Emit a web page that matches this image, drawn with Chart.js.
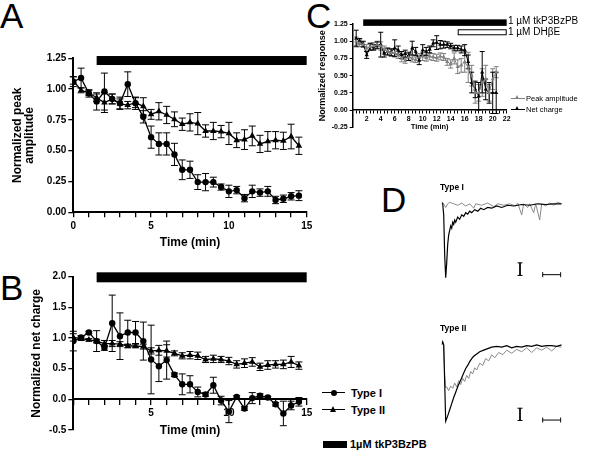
<!DOCTYPE html>
<html>
<head>
<meta charset="utf-8">
<script src="https://cdn.jsdelivr.net/npm/chart.js@4.4.0/dist/chart.umd.min.js"></script>
<style>
body { margin:0; width:592px; height:452px; overflow:hidden; position:relative; background:#fff;
       font-family:"Liberation Sans", Arial, sans-serif; color:#000; }
canvas { position:absolute; }
.txt { position:absolute; white-space:nowrap; }
.letter { position:absolute; font-size:35px; line-height:35px; }
.b { font-weight:bold; }
.ln { position:absolute; height:0; border-top:1.5px solid #000; }
.dot { position:absolute; width:6px; height:6px; border-radius:50%; background:#000; }
.tri { position:absolute; width:0; height:0; border-left:3.5px solid transparent;
       border-right:3.5px solid transparent; border-bottom:6px solid #000; }
</style>
</head>
<body>
<div class="letter" style="left:0;top:-2px">A</div>
<div class="letter" style="left:0;top:270px">B</div>
<div class="letter" style="left:306px;top:-2px">C</div>
<div class="letter" style="left:381px;top:182px">D</div>

<canvas id="chartA" width="320" height="252" style="left:0;top:0"></canvas>
<canvas id="chartB" width="320" height="188" style="left:0;top:252px"></canvas>
<canvas id="chartC" width="282" height="140" style="left:310px;top:0"></canvas>
<canvas id="chartD1" width="150" height="100" style="left:430px;top:190px"></canvas>
<canvas id="chartD2" width="150" height="100" style="left:430px;top:330px"></canvas>

<!-- legend A/B -->
<div class="ln" style="left:322px;top:392px;width:23px"></div>
<div class="dot" style="left:330.5px;top:390px"></div>
<div class="txt b" style="left:351px;top:387px;font-size:11px;line-height:12px">Type I</div>
<div class="ln" style="left:322px;top:409px;width:23px"></div>
<div class="tri" style="left:330px;top:406px"></div>
<div class="txt b" style="left:351px;top:404px;font-size:11px;line-height:12px">Type II</div>

<!-- drug legend -->
<div style="position:absolute;left:323px;top:441px;width:24px;height:7px;background:#000"></div>
<div class="txt b" style="left:350px;top:438px;font-size:11px;line-height:12px">1µM tkP3BzPB</div>

<!-- panel C labels -->
<div class="txt" style="left:508px;top:15px;font-size:10px;line-height:12px">1 µM tkP3BzPB</div>
<div class="txt" style="left:508px;top:26px;font-size:10px;line-height:12px">1 µM DHβE</div>
<div class="ln" style="left:511px;top:97.5px;width:14px;border-color:#808080"></div>
<div class="tri" style="left:514.5px;top:95px;border-bottom-color:#808080;border-left-width:2.5px;border-right-width:2.5px;border-bottom-width:4.5px"></div>
<div class="txt" style="left:526px;top:93.5px;font-size:7.5px;line-height:9px">Peak amplitude</div>
<div class="ln" style="left:511px;top:108.5px;width:14px"></div>
<div class="tri" style="left:514.5px;top:106px;border-left-width:2.5px;border-right-width:2.5px;border-bottom-width:4.5px"></div>
<div class="txt" style="left:526px;top:104.5px;font-size:7.5px;line-height:9px">Net charge</div>

<!-- panel D labels -->
<div class="txt b" style="left:440px;top:182px;font-size:8.5px;line-height:10px">Type I</div>
<div class="txt b" style="left:440px;top:323px;font-size:8.5px;line-height:10px">Type II</div>

<script>
// ---- data: panels A and B (time in min) ----
const TIME_AB = [0,0.5,1,1.5,2,2.5,3,3.5,4,4.5,5,5.5,6,6.5,7,7.5,8,8.5,9,9.5,10,10.5,11,11.5,12,12.5,13,13.5,14,14.5];

const A_TYPE1     = [1.06,1.09,0.965,0.90,0.98,0.92,0.885,1.04,0.885,0.775,0.61,0.555,0.555,0.47,0.345,0.345,0.245,0.245,0.245,0.205,0.17,0.18,0.115,0.17,0.16,0.17,0.10,0.11,0.13,0.135];
const A_TYPE1_SEM = [0.04,0.08,0.03,0.07,0.15,0.04,0.05,0.10,0.05,0.05,0.09,0.09,0.09,0.09,0.08,0.07,0.06,0.07,0.04,0.025,0.05,0.03,0.03,0.05,0.03,0.04,0.03,0.03,0.03,0.04];
const A_TYPE2     = [1.07,0.99,0.97,0.93,0.89,0.92,0.88,0.87,0.89,0.86,0.795,0.82,0.79,0.755,0.715,0.73,0.72,0.66,0.66,0.655,0.64,0.585,0.59,0.62,0.555,0.575,0.585,0.58,0.615,0.54];
const A_TYPE2_SEM = [0.03,0.02,0.02,0.03,0.08,0.04,0.04,0.03,0.04,0.07,0.04,0.07,0.07,0.06,0.05,0.07,0.09,0.05,0.07,0.05,0.09,0.06,0.08,0.08,0.07,0.08,0.07,0.07,0.10,0.07];

const B_TYPE1     = [0.95,1.01,1.09,0.95,0.84,1.24,1.03,1.09,1.09,0.95,0.65,0.54,0.64,0.40,0.245,0.245,0.12,0.08,0.23,-0.02,-0.20,0.04,-0.15,0.02,0.06,0.03,-0.08,-0.23,-0.10,-0.04];
const B_TYPE1_SEM = [0.16,0.03,0.02,0.17,0.04,0.46,0.38,0.20,0.18,0.31,0.56,0.25,0.31,0.03,0.17,0.14,0.08,0.03,0.13,0.07,0.18,0.02,0.03,0.09,0.03,0.02,0.03,0.20,0.07,0.07];
const B_TYPE2     = [1.01,0.99,0.97,0.95,0.91,0.91,0.90,0.87,0.87,0.86,0.79,0.80,0.79,0.75,0.71,0.72,0.71,0.65,0.66,0.65,0.625,0.57,0.59,0.61,0.53,0.56,0.57,0.57,0.61,0.55];
const B_TYPE2_SEM = [0.06,0.03,0.02,0.03,0.05,0.05,0.04,0.03,0.03,0.04,0.05,0.08,0.10,0.04,0.05,0.06,0.06,0.05,0.06,0.05,0.06,0.06,0.07,0.07,0.06,0.07,0.06,0.07,0.09,0.06];

const DRUG_AB = [1.5, 15];   // tkP3BzPB application (min)

// ---- data: panel C ----
const TIME_C = [0.5,1,1.5,2,2.5,3,3.5,4,4.5,5,5.5,6,6.5,7,7.5,8,8.5,9,9.5,10,10.5,11,11.5,12,12.5,13,13.5,14,14.5,15,15.5,16,16.5,17,17.5,18,18.5,19,19.5,20,20.5];
const C_PEAK       = [1.00,0.97,0.95,0.90,0.92,0.93,0.95,0.93,0.88,0.85,0.83,0.83,0.80,0.75,0.72,0.77,0.75,0.73,0.77,0.78,0.76,0.78,0.77,0.76,0.78,0.77,0.70,0.67,0.75,0.63,0.65,0.70,0.62,0.50,0.25,0.25,0.40,0.45,0.25,0.45,0.55];
const C_PEAK_SEM   = [0.06,0.05,0.04,0.05,0.05,0.05,0.05,0.06,0.05,0.05,0.05,0.06,0.05,0.05,0.04,0.05,0.05,0.04,0.05,0.06,0.05,0.05,0.05,0.05,0.05,0.05,0.05,0.06,0.08,0.10,0.10,0.15,0.22,0.15,0.15,0.12,0.20,0.20,0.12,0.15,0.08];
const C_CHARGE     = [1.04,1.00,0.96,0.80,0.92,0.91,0.94,0.95,0.82,0.85,0.84,0.90,0.87,0.80,0.82,0.78,0.90,0.85,0.72,0.87,0.85,0.88,0.97,0.98,0.95,0.95,0.95,0.93,0.90,0.90,0.88,0.87,0.70,0.40,0.30,0.20,0.55,0.30,0.25,0.25,0.25];
const C_CHARGE_SEM = [0.12,0.04,0.04,0.05,0.05,0.04,0.05,0.18,0.05,0.05,0.05,0.12,0.06,0.05,0.05,0.06,0.10,0.06,0.06,0.08,0.06,0.05,0.05,0.10,0.06,0.05,0.04,0.04,0.04,0.04,0.05,0.08,0.10,0.15,0.12,0.20,0.30,0.15,0.15,0.30,0.30];
const DRUG_C_TKP  = [1.5, 22];
const DRUG_C_DHBE = [15, 22];

// ---- data: panel D example currents (time in ms, normalised current) ----
const D1_T     = [0,1,2,3,4,5,6,7,8,9,10,11,12,13,14,16,18,20,22,24,26,28,30,33,36,39,42,46,50,55,60,66,72,80,88,96,104,112,120];
const D1_BLACK = [0.01,0.0,-0.15,-0.7,-1.0,-0.8,-0.55,-0.42,-0.36,-0.3,-0.33,-0.25,-0.28,-0.22,-0.25,-0.18,-0.21,-0.15,-0.17,-0.12,-0.14,-0.1,-0.12,-0.08,-0.1,-0.06,-0.08,-0.05,-0.06,-0.03,-0.05,-0.02,-0.03,-0.01,-0.02,0.0,-0.01,0.0,0.0];
const D1_GRAY_T = [0,2,4,6,8,12,16,20,24,28,32,34,40,46,52,56,62,68,74,76,80,82,86,88,92,94,98,100,104,108,112,116,120];
const D1_GRAY   = [0.03,0.0,-0.05,0.0,0.02,0.0,-0.02,0.01,-0.03,0.0,-0.06,0.0,-0.02,0.01,-0.04,0.0,-0.02,0.0,-0.03,0.01,-0.15,0.0,-0.05,0.0,-0.12,0.0,-0.22,0.0,-0.03,0.01,-0.02,0.02,0.0];

const D2_T     = [0,1,2,3,4,6,8,10,12,14,16,18,20,22,24,26,28,30,32,35,38,42,46,50,55,60,65,70,75,80,85,90,95,100,105,110,115,120];
const D2_BLACK = [0.0,0.04,0.0,-0.5,-1.0,-0.93,-0.85,-0.77,-0.69,-0.62,-0.55,-0.49,-0.43,-0.37,-0.31,-0.27,-0.22,-0.18,-0.15,-0.12,-0.09,-0.07,-0.05,-0.03,-0.02,-0.03,-0.01,-0.04,-0.02,-0.03,-0.01,-0.02,0.0,-0.02,-0.01,-0.01,-0.02,0.0];
const D2_GRAY_T = [0,2,3,4,5,7,9,11,13,15,17,19,21,23,25,27,29,31,33,35,38,41,44,47,50,53,57,61,65,70,75,80,85,90,95,100,105,110,115,120];
const D2_GRAY   = [0.03,0.0,-0.4,-0.56,-0.55,-0.6,-0.54,-0.57,-0.5,-0.55,-0.47,-0.52,-0.44,-0.48,-0.4,-0.44,-0.35,-0.38,-0.3,-0.33,-0.24,-0.27,-0.18,-0.21,-0.13,-0.17,-0.1,-0.13,-0.07,-0.11,-0.06,-0.09,-0.04,-0.1,-0.04,-0.07,-0.03,-0.08,-0.02,-0.03];

// scale bars [x, y] pairs
const D1_VBAR = [[78.3,-0.80],[78.3,-0.97]];
const D1_HBAR = [[101,-0.96],[119,-0.96]];
const D2_VBAR = [[78.3,-0.83],[78.3,-0.99]];
const D2_HBAR = [[101,-0.985],[119,-0.985]];

Chart.defaults.font.family = '"Liberation Sans", Arial, sans-serif';
Chart.defaults.color = '#000';

function pts(xs, ys) { return xs.map((x, i) => ({x: x, y: ys[i]})); }
function pairs(p) { return p.map(q => ({x: q[0], y: q[1]})); }

// vertical SEM bars with caps, drawn under the markers
const errorBars = {
    id: 'errorBars',
    beforeDatasetsDraw(chart) {
        const ctx = chart.ctx, ys = chart.scales.y;
        chart.data.datasets.forEach((ds, i) => {
            if (!ds.errors) return;
            const meta = chart.getDatasetMeta(i);
            const cap = ds.capWidth || 3.5;
            ctx.save();
            ctx.strokeStyle = ds.borderColor;
            ctx.lineWidth = 1;
            meta.data.forEach((el, j) => {
                const v = ds.data[j].y, e = ds.errors[j];
                const top = ys.getPixelForValue(v + e), bot = ys.getPixelForValue(v - e);
                ctx.beginPath();
                ctx.moveTo(el.x, top); ctx.lineTo(el.x, bot);
                ctx.moveTo(el.x - cap, top); ctx.lineTo(el.x + cap, top);
                ctx.moveTo(el.x - cap, bot); ctx.lineTo(el.x + cap, bot);
                ctx.stroke();
            });
            ctx.restore();
        });
    }
};

// drug application bars
function drugBars(items) {
    return {
        id: 'drugBars',
        afterDatasetsDraw(chart) {
            const {ctx, scales: {x, y}} = chart;
            items.forEach(b => {
                const x0 = x.getPixelForValue(b.range[0]), x1 = x.getPixelForValue(b.range[1]);
                const yc = y.getPixelForValue(b.level);
                ctx.save();
                ctx.fillStyle = b.fill;
                ctx.fillRect(x0, yc - b.h / 2, x1 - x0, b.h);
                if (b.stroke) {
                    ctx.strokeStyle = b.stroke;
                    ctx.lineWidth = 1;
                    ctx.strokeRect(x0 + 0.5, yc - b.h / 2 + 0.5, x1 - x0 - 1, b.h - 1);
                }
                ctx.restore();
            });
        }
    };
}

function series(xs, ys, errs, style, color, r, cap) {
    return {
        data: pts(xs, ys), errors: errs, capWidth: cap,
        borderColor: color, backgroundColor: color, borderWidth: 1.3,
        pointStyle: style, pointRadius: r, pointBorderWidth: 0, pointBackgroundColor: color,
        tension: 0
    };
}

function axis(extra) {
    return Object.assign({
        type: 'linear',
        grid: { drawOnChartArea: false, color: '#000', lineWidth: 1.3, tickLength: 5 },
        border: { color: '#000', width: 2 },
    }, extra);
}

const base = {
    responsive: false, animation: false, devicePixelRatio: 1,
    plugins: { legend: { display: false }, tooltip: { enabled: false } }
};

// ---- panel A ----
new Chart(document.getElementById('chartA'), {
    type: 'line',
    data: { datasets: [
        series(TIME_AB, A_TYPE2, A_TYPE2_SEM, 'triangle', '#000', 3.8, 3.5),
        series(TIME_AB, A_TYPE1, A_TYPE1_SEM, 'circle', '#000', 3.2, 3.5)
    ]},
    options: Object.assign({}, base, {
        layout: { padding: { left: 0, right: 13.3, top: 58.3, bottom: 0 } },
        scales: {
            x: axis({
                position: 'bottom', min: 0, max: 15,
                ticks: { stepSize: 1, autoSkip: false, maxRotation: 0, padding: 3,
                         font: { size: 10, weight: 'bold' },
                         callback: v => (v % 5 === 0 ? v : '') },
                title: { display: true, text: 'Time (min)', font: { size: 12, weight: 'bold' },
                         padding: { top: 0, bottom: 1.8 } },
                afterFit: s => { s.height = 39.7; }
            }),
            y: axis({
                min: 0, max: 1.25,
                ticks: { stepSize: 0.25, padding: 2, font: { size: 10, weight: 'bold' },
                         callback: v => v.toFixed(2) },
                title: { display: true, text: ['Normalized peak', 'amplitude'],
                         font: { size: 12, weight: 'bold', lineHeight: 0.95 },
                         padding: { top: 12.3, bottom: 0 } },
                afterFit: s => { s.width = 73.3; }
            })
        }
    }),
    plugins: [errorBars, drugBars([{ range: DRUG_AB, level: 1.232, h: 9, fill: '#000' }])]
});

// ---- panel B ----
new Chart(document.getElementById('chartB'), {
    type: 'line',
    data: { datasets: [
        series(TIME_AB, B_TYPE2, B_TYPE2_SEM, 'triangle', '#000', 3.8, 3.5),
        series(TIME_AB, B_TYPE1, B_TYPE1_SEM, 'circle', '#000', 3.2, 3.5)
    ]},
    options: Object.assign({}, base, {
        layout: { padding: { left: 0, right: 13.3, top: 24.7, bottom: 10 } },
        scales: {
            x: axis({
                position: { y: 0 }, min: 0, max: 15,
                ticks: { stepSize: 1, autoSkip: false, maxRotation: 0, padding: 3,
                         font: { size: 10, weight: 'bold' },
                         callback: v => (v % 5 === 0 && v > 0 ? v : '') },
                title: { display: true, text: 'Time (min)', font: { size: 12, weight: 'bold' },
                         padding: { top: 0, bottom: 1.4 } },
                afterFit: s => { s.height = 40; }
            }),
            y: axis({
                min: -0.5, max: 2.0,
                ticks: { stepSize: 0.5, padding: 2, font: { size: 10, weight: 'bold' },
                         callback: v => v.toFixed(1) },
                title: { display: true, text: 'Normalized net charge',
                         font: { size: 12, weight: 'bold', lineHeight: 1 },
                         padding: { top: 31, bottom: 0 } },
                afterFit: s => { s.width = 73.3; }
            })
        }
    }),
    plugins: [errorBars, drugBars([{ range: DRUG_AB, level: 1.99, h: 10, fill: '#000' }])]
});

// ---- panel C ----
new Chart(document.getElementById('chartC'), {
    type: 'line',
    data: { datasets: [
        Object.assign(series(TIME_C, C_PEAK, C_PEAK_SEM, 'triangle', '#808080', 2.4, 2.5), { borderWidth: 1 }),
        Object.assign(series(TIME_C, C_CHARGE, C_CHARGE_SEM, 'triangle', '#000', 2.4, 2.5), { borderWidth: 1 })
    ]},
    options: Object.assign({}, base, {
        layout: { padding: { left: 0, right: 85.3, top: 24, bottom: 12.7 } },
        scales: {
            x: axis({
                position: { y: 0 }, min: 0, max: 22,
                grid: { drawOnChartArea: false, color: '#000', lineWidth: 1, tickLength: 3 },
                border: { color: '#000', width: 1.5 },
                ticks: { stepSize: 0.5, maxTicksLimit: 100, autoSkip: false, maxRotation: 0, padding: 1.5,
                         font: { size: 7, weight: 'bold' },
                         callback: v => (v % 2 === 0 && v > 0 ? v : '') },
                title: { display: true, text: 'Time (min)', font: { size: 7.5, weight: 'bold' },
                         padding: { top: 0, bottom: 0.8 } },
                afterFit: s => { s.height = 22; }
            }),
            y: axis({
                min: -0.25, max: 1.25,
                grid: { drawOnChartArea: false, color: '#000', lineWidth: 1, tickLength: 3 },
                border: { color: '#000', width: 1.5 },
                ticks: { stepSize: 0.25, padding: 2, font: { size: 7, weight: 'bold' },
                         callback: v => v.toFixed(2) },
                title: { display: true, text: 'Normalized response',
                         font: { size: 9, weight: 'bold', lineHeight: 1 },
                         padding: { top: 8.5, bottom: 0 } },
                afterFit: s => { s.width = 42.7; }
            })
        }
    }),
    plugins: [errorBars, drugBars([
        { range: DRUG_C_TKP, level: 1.27, h: 6.5, fill: '#000' },
        { range: DRUG_C_DHBE, level: 1.13, h: 6, fill: '#fff', stroke: '#000' }
    ])]
});

// ---- panel D ----
function trace(xs, ys, color, w) {
    return { data: pts(xs, ys), borderColor: color, borderWidth: w, pointRadius: 0, tension: 0 };
}
function bar(p, rot) {
    return { data: pairs(p), borderColor: '#000', borderWidth: 1, pointStyle: 'line', pointRotation: rot,
             pointRadius: 2.5, pointBorderColor: '#000', pointBorderWidth: 1 };
}
function dChart(id, black, blackT, gray, grayT, vbar, hbar, ymin, pad) {
    new Chart(document.getElementById(id), {
        type: 'line',
        data: { datasets: [
            trace(blackT, black, '#000', 1.2),
            trace(grayT, gray, '#8a8a8a', 1),
            bar(vbar, 0),
            bar(hbar, 90)
        ]},
        options: Object.assign({}, base, {
            layout: { padding: pad },
            scales: {
                x: { type: 'linear', display: false, min: 0, max: 120 },
                y: { type: 'linear', display: false, min: ymin, max: 0.1 }
            }
        })
    });
}
dChart('chartD1', D1_BLACK, D1_T, D1_GRAY, D1_GRAY_T, D1_VBAR, D1_HBAR, -1.1,
       { left: 11.7, right: 18.3, top: 6.4, bottom: 2.4 });
dChart('chartD2', D2_BLACK, D2_T, D2_GRAY, D2_GRAY_T, D2_VBAR, D2_HBAR, -1.05,
       { left: 11.7, right: 18.3, top: 7.2, bottom: 3.1 });
</script>
</body>
</html>
